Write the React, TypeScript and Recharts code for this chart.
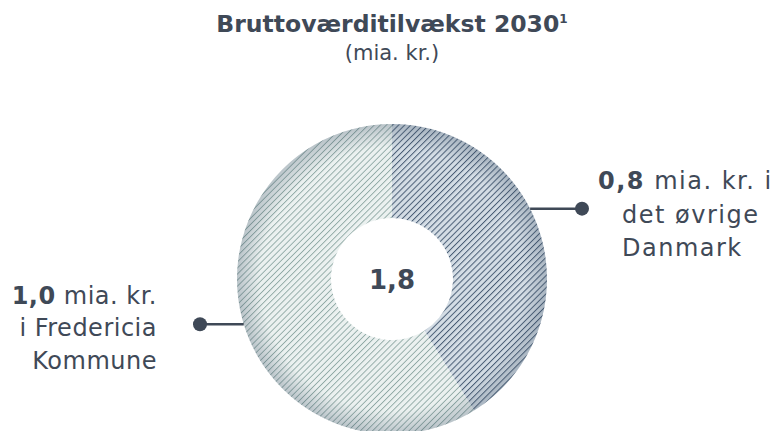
import React from "react";
import { PieChart, Pie, Cell } from "recharts";

// values (the drawn angles are a bit off the rounded labels)
const segments = ["Øvrige Danmark", "Fredericia Kommune"];
const segmentValues = [0.74, 1.06];
const totalLabel = "1,8";
const valueLabels = ["0,8", "1,0"];
const labelLines = [
  [" mia. kr. i", "det øvrige", "Danmark"],
  [" mia. kr.", "i Fredericia", "Kommune"],
];

const TEXT = "#3f4957";
const FONT = "'DejaVu Sans', sans-serif";

const data = segments.map((name, i) => ({ name, value: segmentValues[i] }));
const ring = [{ name: "ring", value: segmentValues.reduce((a, b) => a + b, 0) }];

// angle on the ring where each leader line starts
const leaderAngles = [27, -163];

function SliceLabel(props: any) {
  const { cx, cy, outerRadius, index } = props;
  const rad = (leaderAngles[index] * Math.PI) / 180;
  const y = cy - outerRadius * Math.sin(rad);
  const x0 = cx + outerRadius * Math.cos(rad);
  const right = index === 0;
  const dotX = right ? cx + 190 : cx - 192;
  const lines = labelLines[index];
  const txt = { fontFamily: FONT, fontSize: 24, fill: TEXT };

  return (
    <g>
      <line x1={x0} y1={y} x2={dotX} y2={y} stroke={TEXT} strokeWidth={2.5} />
      <circle cx={dotX} cy={y} r={7} fill={TEXT} />
      {right ? (
        <text {...txt} letterSpacing={1.5}>
          <tspan x={dotX + 16} y={y - 20}>
            <tspan fontWeight="bold">{valueLabels[index]}</tspan>
            {lines[0]}
          </tspan>
          <tspan x={dotX + 40} y={y + 14}>
            {lines[1]}
          </tspan>
          <tspan x={dotX + 40} y={y + 47}>
            {lines[2]}
          </tspan>
        </text>
      ) : (
        <text {...txt} letterSpacing={0.5} textAnchor="end">
          <tspan x={dotX - 43} y={y - 20}>
            <tspan fontWeight="bold">{valueLabels[index]}</tspan>
            {lines[0]}
          </tspan>
          <tspan x={dotX - 43} y={y + 12}>
            {lines[1]}
          </tspan>
          <tspan x={dotX - 43} y={y + 45}>
            {lines[2]}
          </tspan>
        </text>
      )}
      {index === 0 && (
        <text
          x={cx}
          y={cy + 10}
          textAnchor="middle"
          fontFamily={FONT}
          fontSize={26}
          fontWeight="bold"
          fill={TEXT}
        >
          {totalLabel}
        </text>
      )}
    </g>
  );
}

export default function App() {
  return (
    <div style={{ position: "relative", width: 784, height: 431, background: "#fff" }}>
      <style>{"body{margin:0}"}</style>
      <div
        style={{
          position: "absolute",
          top: 10,
          left: 0,
          width: 784,
          textAlign: "center",
          fontFamily: FONT,
          color: TEXT,
        }}
      >
        <div style={{ fontWeight: "bold", fontSize: 23.5, lineHeight: "28px" }}>
          Bruttoværditilvækst 2030<sup style={{ fontSize: 12, lineHeight: 0 }}>1</sup>
        </div>
        <div style={{ fontSize: 21, lineHeight: "26px", marginTop: 2 }}>(mia. kr.)</div>
      </div>
      <PieChart
        width={784}
        height={431}
        margin={{ top: 0, right: 0, bottom: 0, left: 0 }}
        style={{ position: "absolute", top: 0, left: 0 }}
      >
        <defs>
          <pattern
            id="hatchDark"
            width={4.3}
            height={4.3}
            patternUnits="userSpaceOnUse"
            patternTransform="rotate(45)"
          >
            <rect width={4.3} height={4.3} fill="#d4dde5" />
            <line x1={0} y1={0} x2={0} y2={4.3} stroke="#485c74" strokeWidth={2} />
          </pattern>
          <pattern
            id="hatchLight"
            width={4.3}
            height={4.3}
            patternUnits="userSpaceOnUse"
            patternTransform="rotate(45)"
          >
            <rect width={4.3} height={4.3} fill="#ebf1f0" />
            <line x1={0} y1={0} x2={0} y2={4.3} stroke="#8fa9a5" strokeWidth={1.8} />
          </pattern>
          <radialGradient id="edgeShade" cx="50%" cy="50%" r="50%">
            <stop offset="0.85" stopColor="#3c5066" stopOpacity={0} />
            <stop offset="1" stopColor="#3c5066" stopOpacity={0.28} />
          </radialGradient>
        </defs>
        <Pie
          data={data}
          dataKey="value"
          cx={392}
          cy={279}
          innerRadius={61}
          outerRadius={155}
          startAngle={90}
          endAngle={-270}
          stroke="none"
          label={SliceLabel}
          labelLine={false}
          isAnimationActive={false}
        >
          <Cell fill="url(#hatchDark)" />
          <Cell fill="url(#hatchLight)" />
        </Pie>
        <Pie
          data={ring}
          dataKey="value"
          cx={392}
          cy={279}
          innerRadius={61}
          outerRadius={155}
          startAngle={90}
          endAngle={-270}
          stroke="none"
          fill="url(#edgeShade)"
          isAnimationActive={false}
        />
      </PieChart>
    </div>
  );
}
